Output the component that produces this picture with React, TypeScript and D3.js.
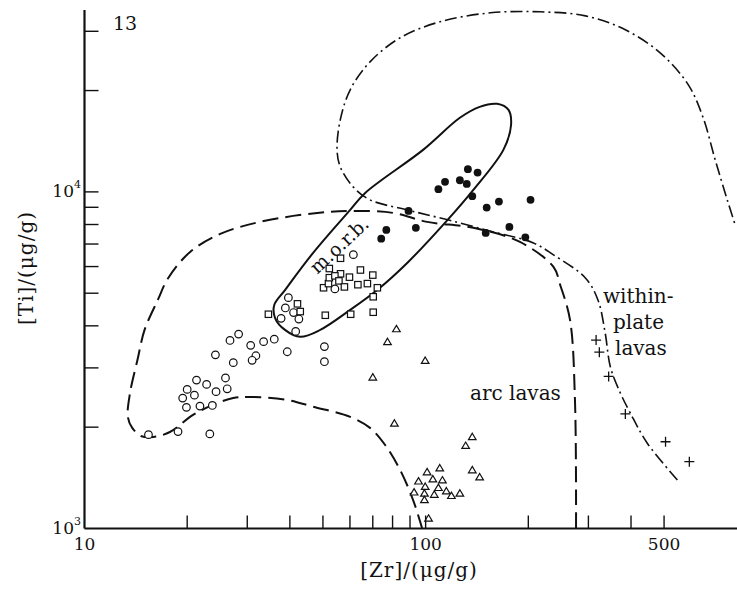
import React from "react";
import * as d3 from "d3";

// ---- data (Zr µg/g, Ti µg/g) ----
const openCircles: [number, number][] = [
  [15.4, 1900], [18.8, 1940], [23.3, 1910], [19.9, 2290], [21.8, 2310], [23.7, 2320],
  [19.4, 2440], [21.0, 2490], [20.0, 2590], [21.3, 2760], [22.8, 2680], [24.3, 2550],
  [26.2, 2600], [25.9, 2800], [24.2, 3280], [27.3, 3110], [26.7, 3620], [28.3, 3780],
  [30.7, 3500], [31.8, 3260], [31.0, 3160], [33.5, 3590], [36.0, 3650], [39.3, 3350],
  [50.5, 3470], [50.5, 3130], [41.6, 3850], [42.5, 4190], [37.7, 4210], [38.8, 4520],
  [41.0, 4380], [39.6, 4850], [54.2, 5150], [61.4, 6510],
];
const openSquares: [number, number][] = [
  [34.6, 4330], [42.1, 4650], [42.9, 4410], [50.8, 4300], [60.3, 4330], [70.2, 4390],
  [70.2, 4880], [72.2, 5190], [50.2, 5190], [51.9, 5340], [52.2, 5560], [52.2, 5920],
  [56.3, 6350], [56.3, 5710], [54.2, 5630], [55.7, 5440], [57.8, 5220], [59.8, 5580],
  [64.4, 5860], [63.3, 5300], [67.5, 5340], [70.0, 5660],
];
const filledCircles: [number, number][] = [
  [133, 11680], [142, 11410], [126, 10830], [132, 10560], [114, 10710], [109, 10190],
  [137, 9710], [151, 8980], [164, 9360], [203, 9470], [89.1, 8780], [76.7, 7710],
  [74.1, 7260], [93.6, 7820], [150, 7550], [176, 7870], [196, 7330],
];
const openTriangles: [number, number][] = [
  [82.1, 3910], [77.3, 3580], [99.7, 3150], [70.0, 2810], [81.0, 2050],
  [137, 1870], [131, 1760], [110, 1510], [101, 1470], [137, 1490], [144, 1420],
  [105, 1400], [112, 1390], [95.3, 1380], [99.7, 1330], [109, 1320], [115, 1290],
  [92.5, 1280], [126, 1270], [99.2, 1270], [106, 1260], [119, 1250], [99.2, 1215],
  [102, 1070],
];
const crosses: [number, number][] = [
  [316, 3630], [323, 3340], [344, 2830], [385, 2190], [505, 1810], [593, 1580],
];

// field boundaries
const morbField: [number, number][] = [
  [162, 18260], [175, 17520], [178, 15820], [169, 13330], [138, 10140], [116, 8260],
  [88.3, 6150], [72.1, 5110], [60.1, 4460], [49.1, 3890], [42.9, 3710], [38.7, 3890],
  [36.2, 4220], [36.0, 4615], [38.7, 5110], [46.8, 6590], [60.1, 8840], [66.5, 9930],
  [98.3, 13330], [126, 16600], [144, 17890],
];
const arcField: [number, number][] = [
  [276, 1003], [274, 2410], [265, 4165], [248, 5290], [237, 5985], [189, 7100],
  [138, 7820], [101, 8145], [80.3, 8660], [60.1, 8780], [48.1, 8660], [32.7, 8145],
  [25.0, 7500], [20.4, 6630], [17.6, 5550], [16.4, 4775], [15.0, 3890], [14.3, 3170],
  [13.6, 2530], [13.4, 2145], [13.8, 1990], [14.7, 1880], [15.9, 1870], [17.8, 1935],
  [20.8, 2175], [23.8, 2330], [27.3, 2440], [30.6, 2460], [39.3, 2410], [46.8, 2300],
  [60.1, 2145], [68.7, 1990], [76.1, 1770], [84.2, 1492], [91.9, 1215], [97.6, 1003],
];
const withinPlateField: [number, number][] = [
  [547, 1394], [446, 1795], [398, 2204], [372, 2530], [348, 3020], [336, 3810],
  [320, 4775], [294, 5550], [237, 6500], [207, 7054], [158, 7605], [116, 8260],
  [88.3, 8840], [68.7, 9470], [61.3, 10350], [56.2, 11870], [55.0, 13330], [56.2, 16370],
  [60.1, 20100], [68.7, 24340], [84.2, 28690], [110, 32000], [155, 34040], [217, 34270],
  [294, 33340], [385, 30300], [487, 25880], [589, 20800], [651, 16600], [706, 12450],
  [766, 9470], [808, 7980],
];

const zrTicks = [20, 30, 40, 50, 60, 70, 80, 90, 100, 200, 300, 400, 500];
const zrLabels = [10, 100, 500];
const tiTicks = [2000, 3000, 4000, 5000, 6000, 7000, 8000, 9000, 10000, 20000, 30000];
const tiLabels: [string, string, number][] = [["10", "3", 1000], ["10", "4", 10000]];

const W = 737;
const H = 594;
const FONT = "'DejaVu Serif', serif";
const INK = "#111";

export default function App() {
  const x = d3.scaleLog().domain([10, 818]).range([84.5, 737]);
  const y = d3.scaleLog().domain([1000, 34700]).range([528.5, 10]);

  const open = d3
    .line<[number, number]>()
    .x((d) => x(d[0]))
    .y((d) => y(d[1]))
    .curve(d3.curveCatmullRom.alpha(0.5));
  const closed = d3
    .line<[number, number]>()
    .x((d) => x(d[0]))
    .y((d) => y(d[1]))
    .curve(d3.curveCatmullRomClosed.alpha(0.5));

  const x0 = x(10);
  const y0 = y(1000);

  return (
    <svg
      width={W}
      height={H}
      style={{ position: "absolute", left: 0, top: 0, background: "#fff" }}
      fontFamily={FONT}
    >
      <rect width={W} height={H} fill="#fff" />
      {/* field boundaries */}
      <path d={closed(morbField) || ""} fill="none" stroke={INK} strokeWidth={2} />
      <path
        d={open(arcField) || ""}
        fill="none"
        stroke={INK}
        strokeWidth={2}
        strokeDasharray="16,7"
      />
      <path
        d={open(withinPlateField) || ""}
        fill="none"
        stroke={INK}
        strokeWidth={1.6}
        strokeDasharray="12,4,2,4"
      />

      {/* points */}
      {openCircles.map((d, i) => (
        <circle key={"c" + i} cx={x(d[0])} cy={y(d[1])} r={3.8} fill="#fff" stroke={INK} strokeWidth={1.2} />
      ))}
      {openSquares.map((d, i) => (
        <rect key={"s" + i} x={x(d[0]) - 3.2} y={y(d[1]) - 3.2} width={6.4} height={6.4} fill="#fff" stroke={INK} strokeWidth={1.2} />
      ))}
      {filledCircles.map((d, i) => (
        <circle key={"f" + i} cx={x(d[0])} cy={y(d[1])} r={3.9} fill={INK} />
      ))}
      {openTriangles.map((d, i) => {
        const cx = x(d[0]);
        const cy = y(d[1]);
        return (
          <path
            key={"t" + i}
            d={`M${cx},${cy - 3.8}L${cx + 3.8},${cy + 2.6}L${cx - 3.8},${cy + 2.6}Z`}
            fill="#fff"
            stroke={INK}
            strokeWidth={1.2}
          />
        );
      })}
      {crosses.map((d, i) => {
        const cx = x(d[0]);
        const cy = y(d[1]);
        return (
          <path
            key={"p" + i}
            d={`M${cx - 5},${cy}H${cx + 5}M${cx},${cy - 5}V${cy + 5}`}
            stroke={INK}
            strokeWidth={1.3}
          />
        );
      })}

      {/* axes */}
      <line x1={x0} y1={y0} x2={W} y2={y0} stroke={INK} strokeWidth={2.2} />
      <line x1={x0} y1={y0} x2={x0} y2={y(34700)} stroke={INK} strokeWidth={2.2} />
      {zrTicks.map((t) => (
        <line key={"xt" + t} x1={x(t)} x2={x(t)} y1={y0} y2={y0 - 13} stroke={INK} strokeWidth={1.4} />
      ))}
      {tiTicks.map((t) => (
        <line key={"yt" + t} x1={x0} x2={x0 + 14} y1={y(t)} y2={y(t)} stroke={INK} strokeWidth={1.4} />
      ))}
      {zrLabels.map((t) => (
        <text key={"xl" + t} x={x(t)} y={550} textAnchor="middle" fontSize={17} fill={INK}>
          {t}
        </text>
      ))}
      {tiLabels.map(([b, e, v]) => (
        <text key={"yl" + v} x={81} y={y(v) + 5} textAnchor="end" fontSize={17} fill={INK}>
          {b}
          <tspan fontSize={11} dy={-9}>
            {e}
          </tspan>
        </text>
      ))}

      {/* titles */}
      <text x={419} y={577} textAnchor="middle" fontSize={20} letterSpacing={1} fill={INK}>
        [Zr]/(μg/g)
      </text>
      <text
        transform={`translate(26,268) rotate(-90)`}
        textAnchor="middle"
        dominantBaseline="central"
        fontSize={20}
        letterSpacing={1}
        fill={INK}
      >
        [Ti]/(μg/g)
      </text>

      {/* annotations */}
      <text x={113} y={30} fontSize={19} fill={INK}>13</text>
      <text
        transform={`translate(339,245) rotate(-43)`}
        textAnchor="middle"
        dominantBaseline="central"
        fontSize={19}
        fill={INK}
      >
        m.o.r.b.
      </text>
      <text x={603} y={303} fontSize={20} fill={INK}>within-</text>
      <text x={613} y={329} fontSize={20} fill={INK}>plate</text>
      <text x={615} y={355} fontSize={20} fill={INK}>lavas</text>
      <text x={470} y={400} fontSize={20} fill={INK}>arc lavas</text>
    </svg>
  );
}
